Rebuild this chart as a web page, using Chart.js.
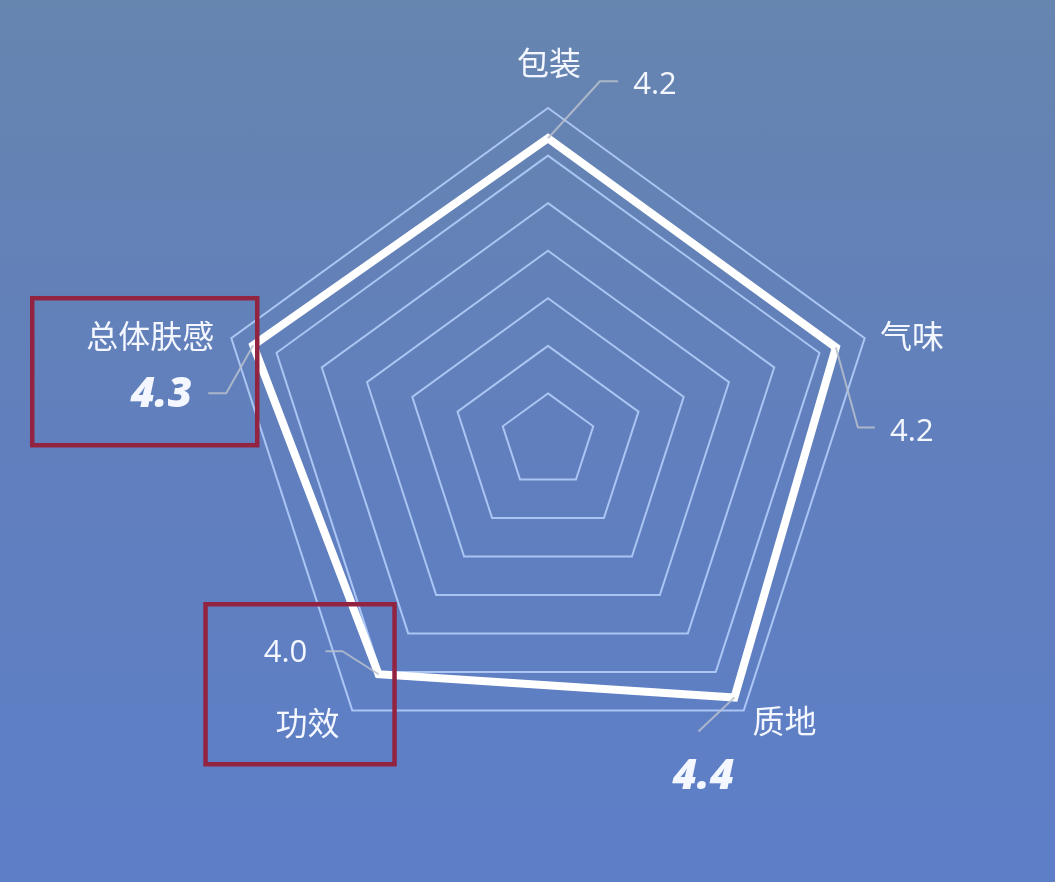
<!DOCTYPE html>
<html>
<head>
<meta charset="utf-8">
<script src="https://cdn.jsdelivr.net/npm/chart.js@4/dist/chart.umd.min.js"></script>
<style>
  html, body { margin: 0; padding: 0; }
  body { width: 1055px; height: 882px; overflow: hidden;
         background: linear-gradient(180deg, #6685af 0%, #617fbd 50%, #5d7fc8 100%); }
  #wrap { position: relative; width: 1055px; height: 882px; }
  canvas { display: block; }
</style>
</head>
<body>
<div id="wrap"><canvas id="c" width="1055" height="882" style="width:1055px;height:882px"></canvas></div>
<script>
// ---- data ----
const categories = ['包装', '气味', '质地', '功效', '总体肤感'];
const scores = [4.2, 4.2, 4.4, 4.0, 4.3];
const valueLabels = ['4.2', '4.2', '4.4', '4.0', '4.3'];
const highlighted = [false, false, true, false, true];   // bold italic value text
const boxed = [false, false, false, true, true];         // red frame around label
const ringCount = 7;
const scaleMax = 4.62;

// ---- layout of annotations (offsets from each data vertex) ----
const layout = [
  { name: [1, -75],   value: [107, -53], leader: [[52, -57], [70, -57]] },
  { name: [76, -12],  value: [76, 85],   leader: [[22, 80], [39, 80]] },
  { name: [50, 23],   value: [-31, 79],  leader: [[-36, 34]] },
  { name: [-71, 49],  value: [-93, -21], leader: [[-36, -23], [-53, -23]], box: [-173, -70, 189, 160] },
  { name: [-103, -9], value: [-92, 50],  leader: [[-27, 48], [-45, 48]], box: [-221, -47, 225, 147] }
];

const annotate = {
  id: 'annotate',
  afterDatasetsDraw(chart) {
    const ctx = chart.ctx;
    const r = chart.scales.r;
    ctx.save();
    categories.forEach((cat, i) => {
      const p = r.getPointPosition(i, r.getDistanceFromCenterForValue(scores[i]));
      const L = layout[i];
      // leader line
      ctx.beginPath();
      ctx.moveTo(p.x, p.y);
      L.leader.forEach(o => ctx.lineTo(p.x + o[0], p.y + o[1]));
      ctx.strokeStyle = 'rgba(185,192,205,0.85)';
      ctx.lineWidth = 2;
      ctx.lineJoin = 'round';
      ctx.stroke();
      // category name
      ctx.fillStyle = '#f4f7ff';
      ctx.textAlign = 'center';
      ctx.textBaseline = 'middle';
      ctx.font = '400 32px "Noto Sans CJK SC", "Noto Sans", sans-serif';
      ctx.fillText(cat, p.x + L.name[0], p.y + L.name[1]);
      // value text
      if (highlighted[i]) {
        ctx.font = 'italic 800 42px "Open Sans", "Noto Sans", sans-serif';
      } else {
        ctx.font = '400 31px "Open Sans", "Noto Sans", sans-serif';
      }
      ctx.fillText(valueLabels[i], p.x + L.value[0], p.y + L.value[1]);
      // red frame
      if (boxed[i] && L.box) {
        ctx.strokeStyle = '#922442';
        ctx.lineWidth = 4.5;
        ctx.lineJoin = 'miter';
        ctx.strokeRect(p.x + L.box[0], p.y + L.box[1], L.box[2], L.box[3]);
      }
    });
    ctx.restore();
  }
};

new Chart(document.getElementById('c'), {
  type: 'radar',
  data: {
    labels: categories,
    datasets: [{
      data: scores,
      borderColor: '#ffffff',
      borderWidth: 8,
      borderJoinStyle: 'miter',
      backgroundColor: 'rgba(0,0,0,0)',
      fill: false,
      pointRadius: 0,
      pointHoverRadius: 0,
      tension: 0
    }]
  },
  options: {
    responsive: false,
    animation: false,
    devicePixelRatio: 1,
    layout: { padding: { left: 100, right: 59, top: 108, bottom: 108 } },
    plugins: { legend: { display: false }, tooltip: { enabled: false } },
    elements: { line: { borderJoinStyle: 'miter' } },
    scales: {
      r: {
        min: 0,
        max: scaleMax,
        startAngle: 0,
        angleLines: { display: false },
        grid: { color: 'rgba(178,204,248,0.9)', lineWidth: 2 },
        pointLabels: { display: false },
        ticks: { display: false },
        afterBuildTicks(scale) {
          const t = [];
          for (let k = 0; k <= ringCount; k++) t.push({ value: scaleMax * k / ringCount });
          scale.ticks = t;
        }
      }
    }
  },
  plugins: [annotate]
});
</script>
</body>
</html>
